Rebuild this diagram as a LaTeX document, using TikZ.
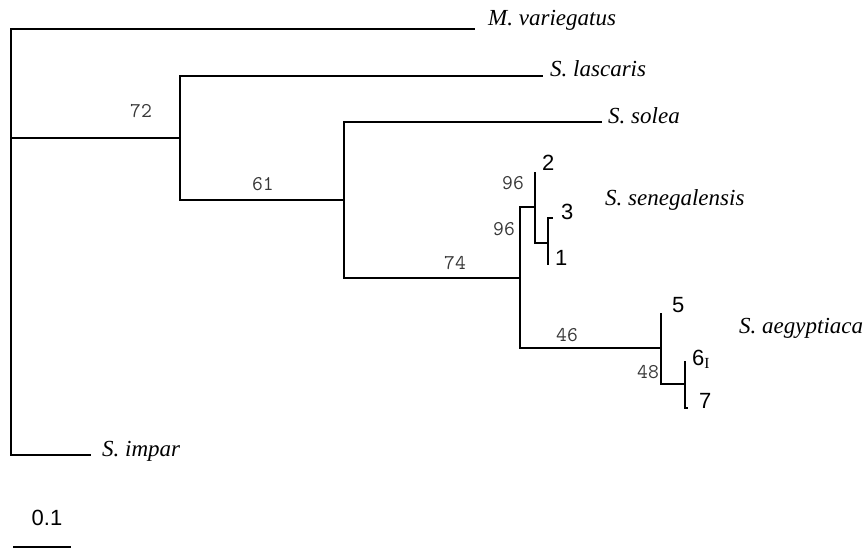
\documentclass[tikz,border=0pt]{standalone}
\usepackage{fontspec}
\setmainfont{Liberation Serif}
\newfontfamily\arialfont{Liberation Sans}
\usetikzlibrary{positioning}

\begin{document}
\begin{tikzpicture}[x=1pt,y=-1pt]

\tikzstyle{branch}=[line width=2.8pt,line join=miter]
\tikzstyle{species}=[anchor=base west,inner sep=0pt,font=\fontsize{23}{25}\selectfont\itshape]
\tikzstyle{clone}=[anchor=base west,inner sep=0pt,font=\fontsize{22}{24}\selectfont\arialfont]
\tikzstyle{boot}=[inner sep=0pt,text=black!78,font=\fontsize{21}{22}\selectfont\ttfamily]

\useasboundingbox (0,0) rectangle (868,549);

% internal nodes
\coordinate (root) at (11,138);
\coordinate (n1) at (180,138);
\coordinate (n2) at (344,200);
\coordinate (n3) at (520,278);
\coordinate (n4) at (535,207);
\coordinate (n5) at (548,243);
\coordinate (n6) at (661,348);
\coordinate (n7) at (685,384);

% tips
\coordinate (mvar) at (475,29);
\coordinate (slas) at (543,76);
\coordinate (ssol) at (602,122);
\coordinate (t2) at (535,172);
\coordinate (t3) at (553,218);
\coordinate (t1) at (548,265);
\coordinate (t5) at (661,313);
\coordinate (t6) at (685,361);
\coordinate (t7) at (688,408);
\coordinate (simp) at (91,455);

\draw[branch] (root) |- (mvar);
\draw[branch] (root) |- (n1);
\draw[branch] (root) |- (simp);
\draw[branch] (n1) |- (slas);
\draw[branch] (n1) |- (n2);
\draw[branch] (n2) |- (ssol);
\draw[branch] (n2) |- (n3);
\draw[branch] (n3) |- (n4);
\draw[branch] (n3) |- (n6);
\draw[branch] (n4) |- (t2);
\draw[branch] (n4) |- (n5);
\draw[branch] (n5) |- (t3);
\draw[branch] (n5) |- (t1);
\draw[branch] (n6) |- (t5);
\draw[branch] (n6) |- (n7);
\draw[branch] (n7) |- (t6);
\draw[branch] (n7) |- (t7);

% species names
\node (l_mvar) [species] at (488,25) {M. variegatus};
\node (l_slas) [species] at (550,76) {S. lascaris};
\node (l_ssol) [species] at (608,123) {S. solea};
\node (l_ssen) [species] at (605,205) {S. senegalensis};
\node (l_saeg) [species] at (739,333) {S. aegyptiaca};
\node (l_simp) [species] at (102,456) {S. impar};

% clone numbers
\node (c2) [clone] at (542,170) {2};
\node (c3) [clone] at (561,219) {3};
\node (c1) [clone] at (555,265) {1};
\node (c5) [clone] at (672,312) {5};
\node (c6) [clone] at (692,365) {6\textsubscript{\rmfamily I}};
\node (c7) [clone] at (699,408) {7};

% bootstrap values
\node (b72) [boot] at (141,111) {72};
\node (b61) [boot] at (263,184) {61};
\node (b74) [boot] at (455,263) {74};
\node (b96a) [boot] at (513,183) {96};
\node (b96b) [boot] at (504,229) {96};
\node (b46) [boot] at (567,335) {46};
\node (b48) [boot] at (648,372) {48};

% scale bar
\coordinate (sb1) at (13,547);
\coordinate (sb2) at (71,547);
\draw[branch] (sb1) -- (sb2);
\node (sbl) [inner sep=0pt,anchor=base,font=\fontsize{22}{24}\selectfont\arialfont] at (47,525) {0.1};

\end{tikzpicture}
\end{document}
